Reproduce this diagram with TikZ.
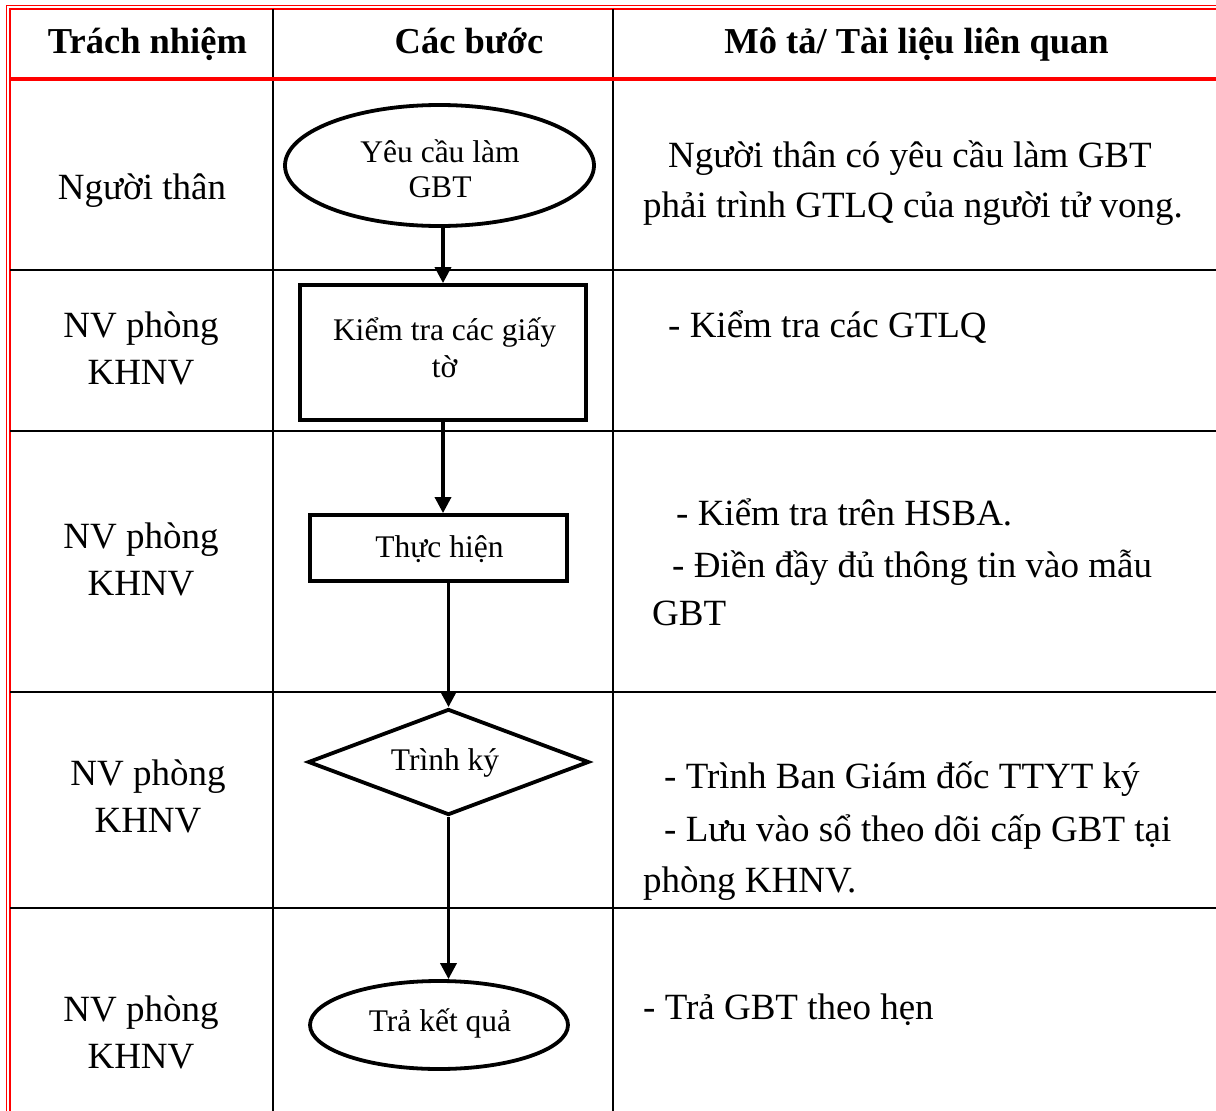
\documentclass[tikz,border=0pt]{standalone}
\usepackage{fontspec}
\setmainfont{Liberation Serif}
\usetikzlibrary{shapes.geometric,arrows.meta}

\tikzset{
  redrule/.style={draw=red, line width=1.6pt},
  hdrrule/.style={draw=red, line width=4pt},
  gridrule/.style={draw=black, line width=2.4pt},
  hdr/.style={font=\bfseries\fontsize{36.5}{44}\selectfont, inner sep=0pt, anchor=base},
  cell/.style={font=\fontsize{37}{44}\selectfont, inner sep=0pt, anchor=base},
  desc/.style={font=\fontsize{37}{44}\selectfont, inner sep=0pt, anchor=base west},
  stxt/.style={font=\fontsize{31.5}{36}\selectfont, inner sep=0pt, anchor=base},
  shp/.style={draw=black, line width=3.8pt, inner sep=0pt},
  flow/.style={draw=black, line width=3.4pt, -{Triangle[width=16pt,length=16pt]}},
}

\begin{document}
\begin{tikzpicture}[x=1pt, y=-1pt]
\useasboundingbox (0,0) rectangle (1216,1111);

% outer double red frame (left and top)
\draw[redrule] (6.5,1111) -- (6.5,5.5) -- (1216,5.5);
\draw[redrule] (10,1111) -- (10,9) -- (1216,9);

% column rules
\draw[gridrule] (273,9) -- (273,1111);
\draw[gridrule] (613,9) -- (613,1111);

% row rules
\draw[gridrule] (10,270) -- (1216,270);
\draw[gridrule] (10,431) -- (1216,431);
\draw[gridrule] (10,692) -- (1216,692);
\draw[gridrule] (10,908) -- (1216,908);

% header underline
\draw[hdrrule] (10,79) -- (1216,79);

% header texts
\node[hdr] (h1) at (147.5,53) {Trách nhiệm};
\node[hdr] (h2) at (469,53) {Các bước};
\node[hdr] (h3) at (916.5,53) {Mô tả/ Tài liệu liên quan};

% responsibility column
\node[cell] (c1) at (142,199) {Người thân};
\node[cell] (c2a) at (141,337) {NV phòng};
\node[cell] (c2b) at (141,384) {KHNV};
\node[cell] (c3a) at (141,548) {NV phòng};
\node[cell] (c3b) at (141,595) {KHNV};
\node[cell] (c4a) at (148,785) {NV phòng};
\node[cell] (c4b) at (148,832) {KHNV};
\node[cell] (c5a) at (141,1021) {NV phòng};
\node[cell] (c5b) at (141,1068) {KHNV};

% flow shapes
\node[shp, ellipse, minimum width=309pt, minimum height=121pt] (e1) at (439.5,165.5) {};
\node[shp, rectangle, minimum width=286pt, minimum height=135pt] (r1) at (443,352.5) {};
\node[shp, rectangle, minimum width=257pt, minimum height=66pt] (r2) at (438.5,548) {};
\node[shp, diamond, minimum width=281pt, minimum height=106pt] (d1) at (448.5,762) {};
\node[shp, ellipse, minimum width=258pt, minimum height=88pt] (e2) at (439,1025) {};

% texts inside the shapes
\node[stxt] (t1a) at (440,162) {Yêu cầu làm};
\node[stxt] (t1b) at (440,197) {GBT};
\node[stxt] (t2a) at (444.5,340) {Kiểm tra các giấy};
\node[stxt] (t2b) at (444.5,377) {tờ};
\node[stxt] (t3) at (439.5,557) {Thực hiện};
\node[stxt] (t4) at (445,770) {Trình ký};
\node[stxt] (t5) at (440,1031) {Trả kết quả};

% connectors
\draw[flow] (e1.south -| r1.north) -- (r1.north);
\draw[flow] (r1.south) -- (r1.south |- r2.north);
\draw[flow] (r2.south -| d1.north) -- (d1.north);
\draw[flow] (d1.south) -- (d1.south |- e2.north);

% description column
\node[desc] (m1a) at (668,167) {Người thân có yêu cầu làm GBT};
\node[desc] (m1b) at (643,217) {phải trình GTLQ của người tử vong.};
\node[desc] (m2) at (668,337) {- Kiểm tra các GTLQ};
\node[desc] (m3a) at (676,525) {- Kiểm tra trên HSBA.};
\node[desc] (m3b) at (672,577) {- Điền đầy đủ thông tin vào mẫu};
\node[desc] (m3c) at (652,625) {GBT};
\node[desc] (m4a) at (664,788) {- Trình Ban Giám đốc TTYT ký};
\node[desc] (m4b) at (664,841) {- Lưu vào sổ theo dõi cấp GBT tại};
\node[desc] (m4c) at (643,892) {phòng KHNV.};
\node[desc] (m5) at (643,1019) {- Trả GBT theo hẹn};
\end{tikzpicture}
\end{document}
